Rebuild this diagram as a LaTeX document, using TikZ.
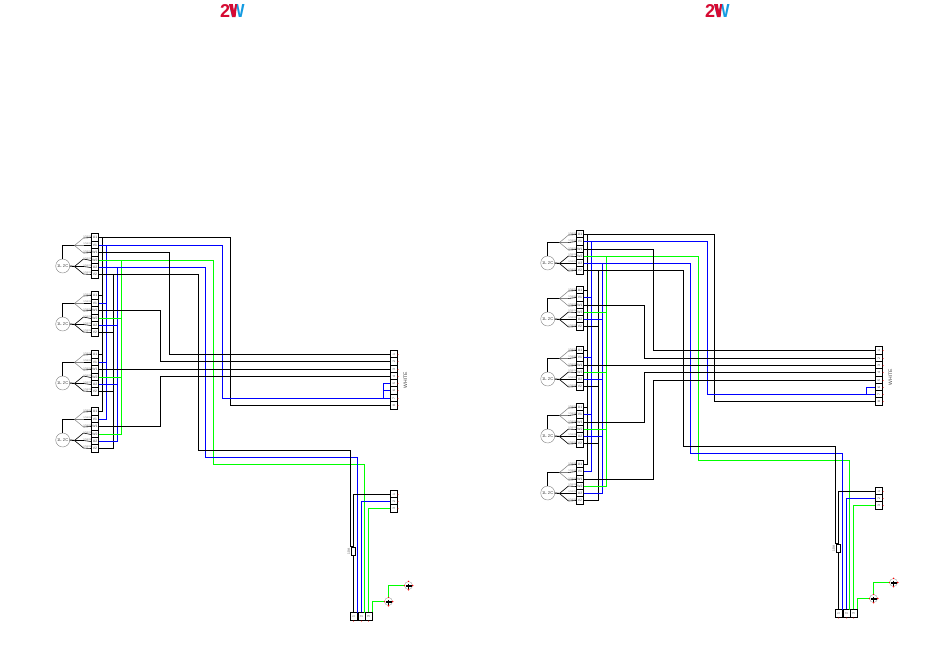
\documentclass[tikz,border=0pt]{standalone}
\usepackage{fontspec}
\setmainfont{Liberation Sans}
\usepackage{xcolor}
\usetikzlibrary{calc}
\definecolor{logored}{RGB}{214,10,50}
\definecolor{logoblue}{RGB}{20,155,225}
\definecolor{textgray}{RGB}{70,70,70}
\tikzset{
  wblack/.style={line width=1pt,black},
  wblue/.style={line width=1pt,blue},
  wgreen/.style={line width=1pt,green},
  feeder/.style={line width=.6pt,black},
  forkline/.style={line width=.5pt,gray},
  termcell/.style={draw,line width=1pt,fill=white,minimum width=7pt,minimum height=8pt,inner sep=0pt,text=textgray,font=\fontsize{3.4}{3.4}\selectfont},
  motor/.style={circle,draw=gray,line width=.4pt,fill=white,minimum size=14pt,inner sep=0pt,text=textgray,font=\fontsize{4.2}{4.2}\selectfont},
  wiretext/.style={inner sep=.4pt,above,text=gray,font=\fontsize{2.6}{3}\selectfont},
  tagtext/.style={inner sep=0pt,text=textgray,rotate=90,font=\fontsize{5}{5}\selectfont},
  fusebox/.style={draw,line width=1pt,fill=white,minimum width=4.5pt,minimum height=8pt,inner sep=0pt},
  earthmark/.style={circle,draw=gray!70,line width=.4pt,fill=white,minimum size=8pt,inner sep=0pt},
}
\newcommand{\motorunit}[2]{%
  \foreach \r/\dt/\t in \cellrows {\node[termcell] (#1t\r) at (95,#2+\dt) {\t};}
  \node[motor] (#1m) at (62.7,#2+32) {1L 2C};
  \coordinate (#1up) at (74.5,#2+11.5);
  \coordinate (#1lo) at (74.5,#2+32.5);
  \draw[wblack] (#1m.north) |- (#1up);
  \draw[wblack] (#1m.east) -- (#1lo);
  \foreach \r/\dy in {1/-7.5,2/0,3/7.5} {\draw[forkline] (#1up) -- ++(9,\dy) coordinate (#1k\r); \draw[feeder] (#1k\r) -- node[wiretext] (#1w\r) {1.5mm} (#1t\r.west);}
  \foreach \r/\dy in {4/-7.5,5/0,6/7.5} {\draw[feeder] (#1lo) -- ++(9,\dy) coordinate (#1k\r); \draw[feeder] (#1k\r) -- node[wiretext] (#1w\r) {1.5mm} (#1t\r.west);}
}
\newcommand{\wiringpanel}[5]{%
  \coordinate (#1busa) at (102.5,300);
  \coordinate (#1busb) at (106.5,300);
  \coordinate (#1busc) at (113.5,300);
  \coordinate (#1busd) at (117.5,300);
  \coordinate (#1buse) at (121.5,300);
  \foreach \b/\r/\sty in {busa/1/wblack,busb/2/wblue,busc/6/wblack,busd/5/wblue,buse/4/wgreen} {
    \foreach \unt in {#2} {\draw[\sty] (#1\unt t\r.east) -- (#1\unt t\r.east -| #1\b);}
    \draw[\sty] (#1at\r.east -| #1\b) -- (#1#3t\r.east -| #1\b);
  }
  \foreach \r/\sy in \termrows {\node[termcell] (#1s\r) at (394,\sy) {\rotatebox{90}{\r}}; \fill[red] (#1s\r.east) circle (.5);}
  \foreach \r/\sy in {1/494.5,2/501.5,3/508.5} {\node[termcell] (#1p\r) at (394,\sy) {\rotatebox{90}{\r}}; \fill[red] (#1p\r.east) circle (.5);}
  \foreach \r/\sx in {1/353.5,2/361.5,3/368.5} {\node[termcell] (#1q\r) at (\sx,616.5) {\rotatebox{90}{\r}}; \fill[red] (#1q\r.south) circle (.5);}
  \node[tagtext] (#1white) at (405.3,380) {WHITE};
  \node[fusebox] (#1fuse) at (353.5,551.5) {};
  \node[tagtext,font=\fontsize{3.2}{3.2}\selectfont] (#1amp) at (348.8,551.5) {10A};
  \node[earthmark] (#1ga) at (388.5,601.5) {};
  \node[earthmark] (#1gb) at (408.5,585.5) {};
  \foreach \g in {ga,gb} {
    \draw[line width=1pt] (#1\g.center) ++(0,-2) -- ++(0,5);
    \draw[line width=1.4pt] ($(#1\g.west)+(1.2,.5)$) -- ($(#1\g.east)+(-1.2,.5)$);
    \foreach \a in {north,south,east,west} {\fill[red] (#1\g.\a) circle (.8);}
  }
  \draw[wblack] (#1at1.east) -| (#4,350) |- (#1s8.west);
  \draw[wblue] (#1at2.east) -| (222.5,350) |- (#1s7.west);
  \draw[wgreen] (#1at4.east) -| (213.5,350) |- (364.5,#5+14) -- (364.5,612.5);
  \draw[wblue] (#1at5.east) -| (205.5,350) |- (357.5,#5+7) -- (357.5,612.5);
  \draw[wblack] (#1at6.east) -| (198.5,350) |- (350.5,#5) -- (350.5,546.5) -- (353.5,546.5) -- (#1fuse.north);
  \draw[wblack] (#1p1.west) -| (#1fuse.north);
  \draw[wblack] (#1fuse.south) -- (#1fuse.south |- #1q1.north);
  \draw[wblue] (#1p2.west) -| (#1q2.north);
  \draw[wgreen] (#1p3.west) -| (#1q3.north);
  \draw[wgreen] (#1q3.north east) |- (#1ga.west);
  \draw[wgreen] (#1ga.north) |- (#1gb.west);
}
\begin{document}
\begin{tikzpicture}[x=1pt,y=-1pt]
  \useasboundingbox (0,0) rectangle (950,667);
  \foreach \x/\n in {220/la,705/lb} {
    \node[inner sep=0pt,anchor=west,text=logored,font=\bfseries] (\n two) at (\x,10.5) {\resizebox{10pt}{13pt}{2}};
    \node[inner sep=0pt,anchor=west,text=logoblue,font=\bfseries] (\n w) at (\x+9,10.5) {\resizebox{15.5pt}{13pt}{W}};
    \fill[logored] (\x+9,4) -- (\x+12.8,4) -- (\x+14,11) -- (\x+15.2,4) -- (\x+17,4) -- (\x+15.6,17) -- (\x+12.2,17) -- cycle;
  }
  \begin{scope}
    \def\cellrows{1/3.5/U1,2/11.5/V1,3/18.5/W1,4/26.5/W2,5/33.5/U2,6/40.5/V2}
    \def\termrows{1/354.5,2/361.5,3/369.5,4/376.5,5/383.5,6/390.5,7/398.5,8/405.5}
    \foreach \unt/\ytop in {a/234,b/292,c/351,d/408} {\motorunit{L\unt}{\ytop}}
    \wiringpanel{L}{a,b,c,d}{d}{230.5}{450.5}
    \draw[wblack] (Lat3.east) -| (169.5,300) |- (Ls1.west);
    \draw[wblack] (Lbt3.east) -| (160.5,330) |- (Ls2.west);
    \draw[wblack] (Lct3.east) -- (Ls3.west);
    \draw[wblack] (Ldt3.east) -| (160.5,400) |- (Ls4.west);
    \draw[wblue] (Ls5.west) -| (383.5,390);
    \draw[wblue] (Ls6.west) -| (383.5,390);
    \draw[wblue] (383.5,390) |- (Ls7.west);
  \end{scope}
  \begin{scope}[shift={(485,-3)}]
    \def\cellrows{1/3.5/U1,2/10.5/V1,3/18.5/W1,4/25.5/W2,5/32.5/U2,6/39.5/V2}
    \def\termrows{1/353.5,2/361.5,3/368.5,4/375.5,5/383.5,6/390.5,7/397.5,8/404.5}
    \foreach \unt/\ytop in {a/234,b/290,c/350,d/407,e/464} {\motorunit{R\unt}{\ytop}}
    \wiringpanel{R}{a,b,c,d,e}{e}{229.5}{449.5}
    \draw[wblack] (Rat3.east) -| (168.5,300) |- (Rs1.west);
    \draw[wblack] (Rbt3.east) -| (159.5,330) |- (Rs2.west);
    \draw[wblack] (Rct3.east) -- (Rs3.west);
    \draw[wblack] (Rdt3.east) -| (159.5,400) |- (Rs4.west);
    \draw[wblack] (Ret3.east) -| (168.5,420) |- (Rs5.west);
    \draw[wblue] (Rs6.west) -| (381.5,395) |- (Rs7.west);
  \end{scope}
\end{tikzpicture}
\end{document}
